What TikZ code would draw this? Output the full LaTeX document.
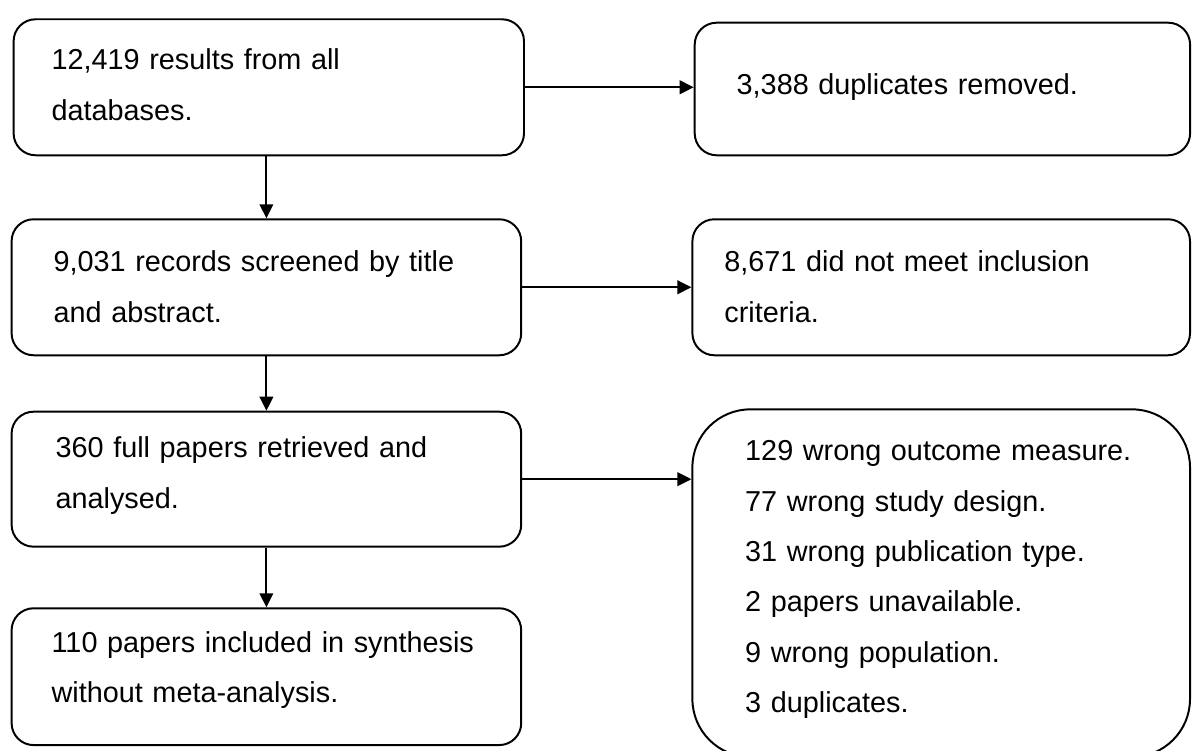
\documentclass[tikz,border=0pt]{standalone}
\usepackage{fontspec}
\setmainfont{Liberation Sans}
\usetikzlibrary{arrows.meta}

\begin{document}
\begin{tikzpicture} [scale = 1,
  box/.style = {draw = black, line width = 1.4pt, rounded corners = 0.55cm, align = left, text height = 0.35cm, font = \fontsize{20.5}{35.9}\selectfont},
  arr/.style = {draw = black, line width = 1.4pt, -{Triangle[length = 0.35cm, width = 0.34cm]}}]
\useasboundingbox (0, 0) rectangle (29.8, 18.775);
\clip (0, 0) rectangle (29.8, 18.775);
\node[box, minimum width = 12.76cm, minimum height = 3.4cm, text width = 10.86cm, inner xsep = 0.95cm, text height = 0.4cm] (results) at (6.72, 16.593) {12,419 results from all\\databases.};
\node[box, minimum width = 12.385cm, minimum height = 3.315cm, text width = 10.285cm, inner xsep = 1.05cm, text height = 0.45cm] (duplicates) at (23.56, 16.55) {3,388 duplicates removed.};
\node[box, minimum width = 12.74cm, minimum height = 3.4cm, text width = 10.64cm, inner xsep = 1.05cm, text height = 0.5cm] (screened) at (6.66, 11.593) {9,031 records screened by title\\and abstract.};
\node[box, minimum width = 12.44cm, minimum height = 3.4cm, text width = 10.84cm, inner xsep = 0.8cm, text height = 0.5cm] (excluded) at (23.53, 11.593) {8,671 did not meet inclusion\\criteria.};
\node[box, minimum width = 12.74cm, minimum height = 3.375cm, text width = 10.54cm, inner xsep = 1.1cm] (fulltext) at (6.66, 6.795) {360 full papers retrieved and\\analysed.};
\node[box, minimum width = 12.44cm, minimum height = 8.69cm, text width = 9.8cm, inner xsep = 1.32cm, text height = 0.33cm, rounded corners = 1.45cm] (reasons) at (23.53, 4.196) {129 wrong outcome measure.\\77 wrong study design.\\31 wrong publication type.\\2 papers unavailable.\\9 wrong population.\\3 duplicates.};
\node[box, minimum width = 12.74cm, minimum height = 3.42cm, text width = 10.74cm, inner xsep = 1.0cm, text height = 0.2cm] (included) at (6.66, 1.858) {110 papers included in synthesis\\without meta-analysis.};
\draw[arr] (results.east) -- (duplicates.west |- results.east);
\draw[arr] (results.south -| screened.north) -- (screened.north);
\draw[arr] (screened.east) -- (excluded.west);
\draw[arr] (screened.south) -- (fulltext.north);
\draw[arr] (fulltext.east) -- (reasons.west |- fulltext.east);
\draw[arr] (fulltext.south) -- (included.north);
\end{tikzpicture}
\end{document}
